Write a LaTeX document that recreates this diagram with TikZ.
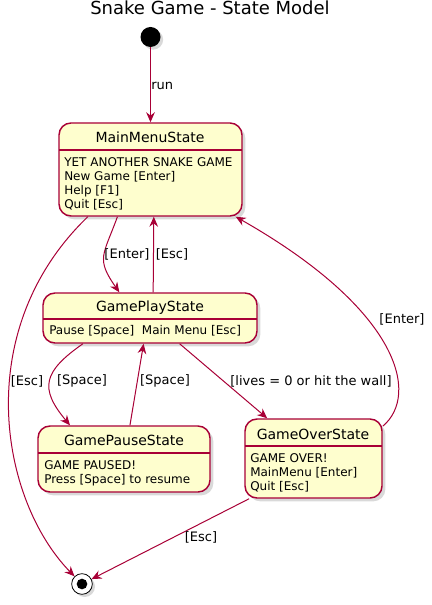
\documentclass[tikz,border=0pt]{standalone}
\usepackage{fontspec}
\setmainfont{DejaVu Sans}
\usepackage{tikz}
\usetikzlibrary{arrows.meta,fit,shadows}

\definecolor{umlred}{HTML}{A80036}
\definecolor{umlfill}{HTML}{FEFECE}

\begin{document}
\begin{tikzpicture}[
    x=0.75pt, y=-0.75pt,
    state/.style={rectangle, draw=umlred, fill=umlfill, line width=1.1pt, rounded corners=9pt, inner sep=0pt,
        drop shadow={opacity=0.3, shadow xshift=2.5pt, shadow yshift=-2.5pt}},
    statename/.style={anchor=base, inner sep=0pt, font=\fontsize{10.5pt}{12pt}\selectfont},
    statebody/.style={anchor=north west, align=left, inner sep=0pt, font=\fontsize{9pt}{10.5pt}\selectfont},
    sep/.style={draw=umlred, line width=1.1pt},
    arrow/.style={-{Stealth[length=7.5pt, width=6.5pt, inset=2.5pt]}, draw=umlred, line width=0.75pt},
    lbl/.style={inner sep=0pt, font=\fontsize{9.75pt}{11pt}\selectfont}
]
    \useasboundingbox (0,0) rectangle (431,605);

    % Title
    \node[anchor=base, inner sep=0pt, font=\fontsize{13.5pt}{16pt}\selectfont] (title) at (210,15) {Snake Game - State Model};

    % Start and stop
    \node[circle, fill=black, minimum size=15pt, inner sep=0pt,
        drop shadow={opacity=0.3, shadow xshift=2pt, shadow yshift=-2pt}] (start) at (150.5,37) {};
    \node[circle, draw=black, fill=white, minimum size=15.5pt, inner sep=0pt, line width=0.6pt,
        drop shadow={opacity=0.3, shadow xshift=2pt, shadow yshift=-2pt},
        path picture={\fill[black] (path picture bounding box.center) circle (4pt);}] (stop) at (82,584) {};

    % MainMenuState
    \node[state, fit={(59,123) (242,216)}] (main) {};
    \node[statename] (maintitle) at (150,142.5) {MainMenuState};
    \draw[sep] (59,150) -- (242,150);
    \node[statebody] (mainbody) at (64,157) {YET ANOTHER SNAKE GAME\\New Game [Enter]\\Help [F1]\\Quit [Esc]};

    % GamePlayState
    \node[state, fit={(43,293) (257,343)}] (play) {};
    \node[statename] (playtitle) at (150,311.5) {GamePlayState};
    \draw[sep] (43,319) -- (257,319);
    \node[statebody] (playbody) at (49,325.5) {Pause [Space]~ Main Menu [Esc]};

    % GamePauseState
    \node[state, fit={(38,426) (210,492)}] (pause) {};
    \node[statename] (pausetitle) at (124,445) {GamePauseState};
    \draw[sep] (38,453) -- (210,453);
    \node[statebody] (pausebody) at (44,460) {GAME PAUSED!\\Press [Space] to resume};

    % GameOverState
    \node[state, fit={(245,419) (382,498)}] (over) {};
    \node[statename] (overtitle) at (313,439) {GameOverState};
    \draw[sep] (245,446) -- (382,446);
    \node[statebody] (overbody) at (250,453) {GAME OVER!\\MainMenu [Enter]\\Quit [Esc]};

    % Arrows
    \draw[arrow] (start) -- (main);
    \draw[arrow] (main.235) to[out=-110, in=125, looseness=1.4] (play.140);
    \draw[arrow] (play.83) -- (main.274);
    \draw[arrow] (main.217) .. controls (-30,330) and (0,500) .. (stop);
    \draw[arrow] (play.201) to[out=-145, in=130, looseness=1.5] (pause.148);
    \draw[arrow] (pause.80) -- (play.256);
    \draw[arrow] (play.-41) -- (over.139);
    \draw[arrow] (over.25) .. controls (420,395) and (400,310) .. (main.-29);
    \draw[arrow] (over.212) -- (stop);

    % Arrow labels
    \node[lbl, anchor=west] (runlbl) at (151,86) {run};
    \node[lbl] (enterlbl) at (127,254) {[Enter]};
    \node[lbl] (esclbl) at (172,254) {[Esc]};
    \node[lbl] (quitlbl) at (27,381) {[Esc]};
    \node[lbl] (pauselbl) at (82,381) {[Space]};
    \node[lbl] (resumelbl) at (165,381) {[Space]};
    \node[lbl] (overlbl) at (311,381) {[lives = 0 or hit the wall]};
    \node[lbl] (menulbl) at (402,319) {[Enter]};
    \node[lbl] (exitlbl) at (201,537) {[Esc]};
\end{tikzpicture}
\end{document}
